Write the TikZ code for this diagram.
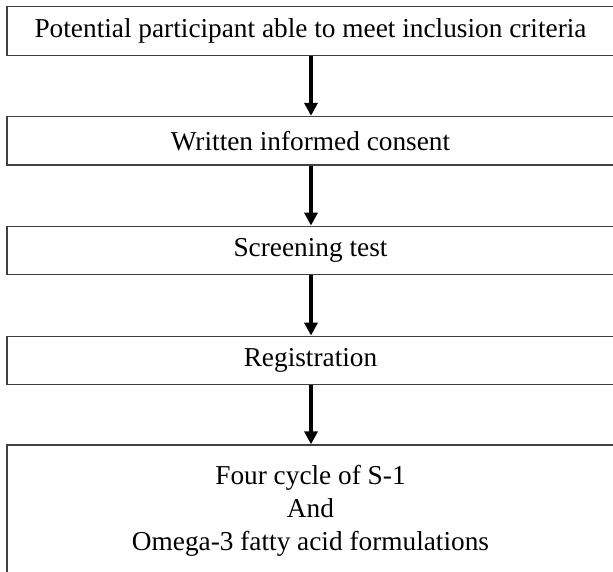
\documentclass[tikz,border=0pt]{standalone}
\usepackage{fontspec}
\setmainfont{Liberation Serif}
\usetikzlibrary{arrows.meta}
\begin{document}
\begin{tikzpicture}[x=1pt,y=-1pt,
  box/.style={draw=black!75, line width=1.3pt, rectangle, minimum width=607pt, inner sep=0pt, align=center, font=\fontsize{27.3}{33}\selectfont},
  flow/.style={line width=4pt, -{Triangle[width=13pt,length=13pt]}}]
\useasboundingbox (0,0) rectangle (613,571);
\clip (0,0) rectangle (613,571);
\node[box, minimum height=48.5pt] (b1) at (310.5,31) {Potential participant able to meet inclusion criteria};
\node[box, minimum height=48.5pt] (b2) at (310.5,140.7) {Written informed consent};
\node[box, minimum height=48.5pt] (b3) at (310.5,250.5) {Screening test};
\node[box, minimum height=48.5pt] (b4) at (310.5,360.5) {Registration};
\node[box, minimum height=132pt] (b5) at (310.5,511) {Four cycle of S-1\\And\\Omega-3 fatty acid formulations};
\draw[flow] (b1.south -| 311,0) -- (b2.north -| 311,0);
\draw[flow] (b2.south -| 311,0) -- (b3.north -| 311,0);
\draw[flow] (b3.south -| 311,0) -- (b4.north -| 311,0);
\draw[flow] (b4.south -| 311,0) -- (b5.north -| 311,0);
\end{tikzpicture}
\end{document}
